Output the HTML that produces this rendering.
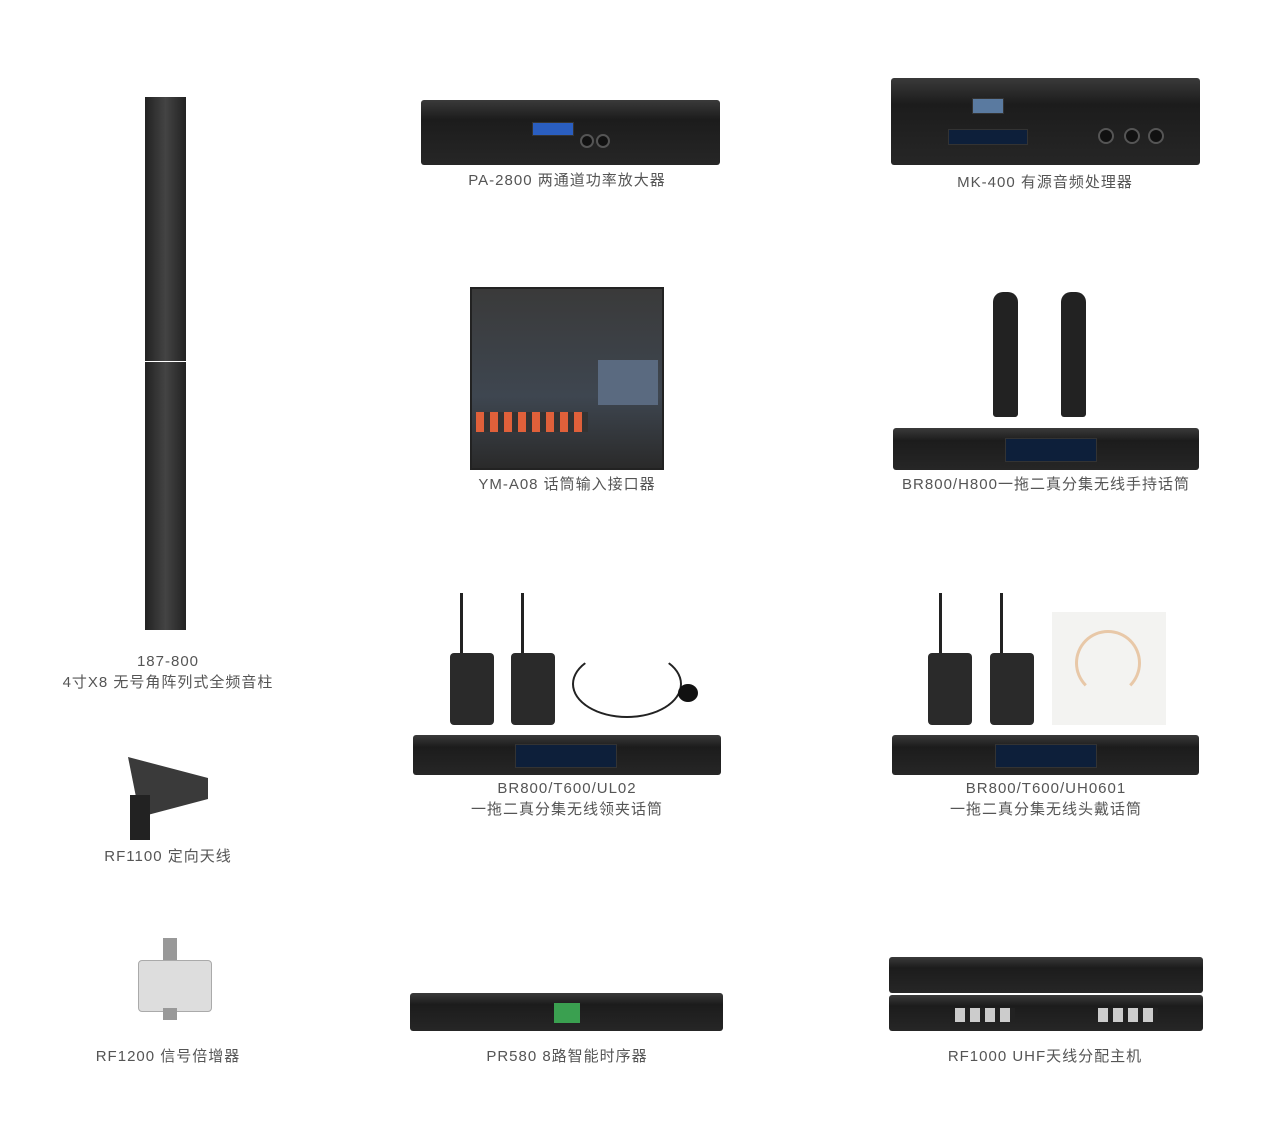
<!DOCTYPE html>
<html><head><meta charset="utf-8"><style>
body{margin:0;width:1268px;height:1141px;background:#fff;position:relative;overflow:hidden;font-family:"Liberation Sans","Noto Sans CJK SC",sans-serif}
.a{position:absolute}
.l{position:absolute;color:#555;font-size:15px;letter-spacing:1px;text-align:center;white-space:nowrap;transform:translateX(-50%);line-height:21px}
.dev{position:absolute;background:linear-gradient(#3a3a3a,#1c1c1c 30%,#262626);border-radius:3px}
.scr{position:absolute;background:#0d1f3a;border:1px solid #333}
.knob{position:absolute;border-radius:50%;background:#111;border:2px solid #555}
.tx{position:absolute;background:#2a2a2a;border-radius:4px}
.ant{position:absolute;width:3px;background:#222}
</style></head><body>
<div class="a" style="left:145px;top:97px;width:41px;height:264px;background:linear-gradient(90deg,#222,#444 50%,#222)"></div>
<div class="a" style="left:145px;top:362px;width:41px;height:268px;background:linear-gradient(90deg,#222,#444 50%,#222)"></div>
<div class="l" style="left:168px;top:651px">187-800<br>4寸X8 无号角阵列式全频音柱</div>
<div class="a" style="left:128px;top:757px;width:80px;height:60px;background:#3a3a3a;clip-path:polygon(0 0,100% 35%,100% 70%,15% 100%)"></div>
<div class="a" style="left:130px;top:795px;width:20px;height:45px;background:#222"></div>
<div class="l" style="left:168px;top:846px">RF1100 定向天线</div>
<div class="a" style="left:163px;top:938px;width:14px;height:24px;background:#999"></div>
<div class="a" style="left:138px;top:960px;width:72px;height:50px;background:#ddd;border:1px solid #aaa;border-radius:4px"></div>
<div class="a" style="left:163px;top:1008px;width:14px;height:12px;background:#999"></div>
<div class="l" style="left:168px;top:1046px">RF1200 信号倍增器</div>
<div class="dev" style="left:421px;top:100px;width:299px;height:65px"></div>
<div class="scr" style="left:532px;top:122px;width:40px;height:12px;background:#2a5ec0"></div>
<div class="knob" style="left:580px;top:134px;width:10px;height:10px"></div><div class="knob" style="left:596px;top:134px;width:10px;height:10px"></div>
<div class="l" style="left:567px;top:170px">PA-2800 两通道功率放大器</div>
<div class="dev" style="left:891px;top:78px;width:309px;height:87px"></div>
<div class="scr" style="left:972px;top:98px;width:30px;height:14px;background:#5a7aa0"></div>
<div class="scr" style="left:948px;top:129px;width:78px;height:14px"></div>
<div class="knob" style="left:1098px;top:128px;width:12px;height:12px"></div><div class="knob" style="left:1124px;top:128px;width:12px;height:12px"></div><div class="knob" style="left:1148px;top:128px;width:12px;height:12px"></div>
<div class="l" style="left:1045px;top:172px">MK-400 有源音频处理器</div>
<div class="a" style="left:470px;top:287px;width:194px;height:183px;background:linear-gradient(#3a3a3a,#3e4650 60%,#2a2a2a);border:2px solid #222;box-sizing:border-box"></div>
<div class="a" style="left:476px;top:412px;width:112px;height:20px;background:repeating-linear-gradient(90deg,#e0603a 0 8px,#333 8px 14px)"></div>
<div class="a" style="left:598px;top:360px;width:60px;height:45px;background:#5a6a80"></div>
<div class="l" style="left:567px;top:474px">YM-A08 话筒输入接口器</div>
<div class="a" style="left:993px;top:292px;width:25px;height:125px;background:#222;border-radius:10px 10px 3px 3px"></div>
<div class="a" style="left:1061px;top:292px;width:25px;height:125px;background:#222;border-radius:10px 10px 3px 3px"></div>
<div class="dev" style="left:893px;top:428px;width:306px;height:42px"></div>
<div class="scr" style="left:1005px;top:438px;width:90px;height:22px"></div>
<div class="l" style="left:1046px;top:474px">BR800/H800一拖二真分集无线手持话筒</div>
<div class="ant" style="left:460px;top:593px;height:62px"></div><div class="ant" style="left:521px;top:593px;height:62px"></div>
<div class="tx" style="left:450px;top:653px;width:44px;height:72px"></div>
<div class="tx" style="left:511px;top:653px;width:44px;height:72px"></div>
<div class="a" style="left:572px;top:650px;width:110px;height:68px;border:2px solid #222;border-radius:50%;box-sizing:border-box;border-top-color:transparent"></div>
<div class="a" style="left:678px;top:684px;width:20px;height:18px;background:#111;border-radius:50%"></div>
<div class="dev" style="left:413px;top:735px;width:308px;height:40px"></div>
<div class="scr" style="left:515px;top:744px;width:100px;height:22px"></div>
<div class="l" style="left:567px;top:778px">BR800/T600/UL02<br>一拖二真分集无线领夹话筒</div>
<div class="ant" style="left:939px;top:593px;height:62px"></div><div class="ant" style="left:1000px;top:593px;height:62px"></div>
<div class="tx" style="left:928px;top:653px;width:44px;height:72px"></div>
<div class="tx" style="left:990px;top:653px;width:44px;height:72px"></div>
<div class="a" style="left:1052px;top:612px;width:114px;height:113px;background:#f3f3f1"></div>
<div class="a" style="left:1075px;top:630px;width:60px;height:60px;border:3px solid #e8c8a8;border-radius:50%;border-bottom-color:transparent"></div>
<div class="dev" style="left:892px;top:735px;width:307px;height:40px"></div>
<div class="scr" style="left:995px;top:744px;width:100px;height:22px"></div>
<div class="l" style="left:1046px;top:778px">BR800/T600/UH0601<br>一拖二真分集无线头戴话筒</div>
<div class="dev" style="left:410px;top:993px;width:313px;height:38px"></div>
<div class="a" style="left:554px;top:1003px;width:26px;height:20px;background:#3aa050"></div>
<div class="l" style="left:567px;top:1046px">PR580 8路智能时序器</div>
<div class="dev" style="left:889px;top:957px;width:314px;height:36px"></div>
<div class="dev" style="left:889px;top:995px;width:314px;height:36px"></div>
<div class="a" style="left:955px;top:1008px;width:60px;height:14px;background:repeating-linear-gradient(90deg,#ccc 0 10px,#222 10px 15px)"></div>
<div class="a" style="left:1098px;top:1008px;width:60px;height:14px;background:repeating-linear-gradient(90deg,#ccc 0 10px,#222 10px 15px)"></div>
<div class="l" style="left:1045px;top:1046px">RF1000 UHF天线分配主机</div>
</body></html>
